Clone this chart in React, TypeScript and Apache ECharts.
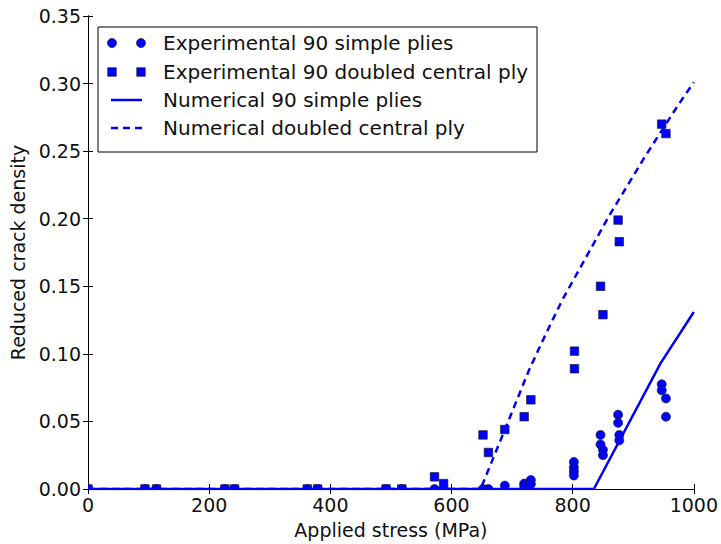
import React, { useEffect, useRef } from "react";
import * as echarts from "echarts";

// Experimental 90 simple plies (circles)
const circleX = [0, 94, 113, 226, 242, 362, 379, 492, 518, 572, 587, 652, 661, 688, 720, 720, 731, 731, 802, 802, 802, 802, 846, 846, 850, 850, 875, 875, 877, 877, 947, 947, 954, 954];
const circleY = [0, 0, 0, 0, 0, 0, 0, 0, 0, 0, 0, 0, 0, 0.0025, 0.004, 0.002, 0.0067, 0.0037, 0.020, 0.016, 0.013, 0.010, 0.040, 0.033, 0.029, 0.025, 0.055, 0.049, 0.040, 0.036, 0.0775, 0.073, 0.067, 0.0535];

// Experimental 90 doubled central ply (squares)
const squareX = [0, 94, 113, 226, 242, 362, 379, 492, 518, 572, 587, 652, 661, 688, 720, 731, 803, 803, 846, 850, 875, 877, 947, 954];
const squareY = [0, 0, 0, 0, 0, 0, 0, 0, 0, 0.009, 0.004, 0.040, 0.027, 0.044, 0.0535, 0.066, 0.102, 0.089, 0.150, 0.129, 0.199, 0.183, 0.270, 0.263];

// Numerical 90 simple plies (solid line)
const simpleX = [0, 835, 945, 1000];
const simpleY = [0, 0, 0.093, 0.131];

// Numerical doubled central ply (dashed line)
const doubledX = [0, 648, 690, 728, 756, 783, 860, 918, 974, 1000];
const doubledY = [0, 0, 0.046, 0.088, 0.115, 0.140, 0.202, 0.245, 0.284, 0.301];

const xTicks = { min: 0, max: 1000, interval: 200 };
const yTicks = { min: 0, max: 0.35, interval: 0.05 };

const legendLabels = [
  "Experimental 90 simple plies",
  "Experimental 90 doubled central ply",
  "Numerical 90 simple plies",
  "Numerical doubled central ply",
];

const BLUE = "#0000ff";
const FONT = "DejaVu Sans";

export default function App() {
  const ref = useRef<HTMLDivElement>(null);
  useEffect(() => {
    if (!ref.current) return;
    const chart = echarts.init(ref.current, null, { renderer: "svg" });

    const circleData = circleX.map((x, i) => [x, circleY[i]]);
    const squareData = squareX.map((x, i) => [x, squareY[i]]);
    const simpleData = simpleX.map((x, i) => [x, simpleY[i]]);
    const doubledData = doubledX.map((x, i) => [x, doubledY[i]]);

    const markerStyle = { fill: BLUE, stroke: "#1a1a3a", lineWidth: 0.7 };
    const R = 4.5;
    const S = 8.5;

    const axisCommon = {
      splitLine: { show: false },
      axisLine: { show: true, lineStyle: { color: "#000", width: 1 } },
      axisTick: { show: true, inside: true, length: 5, lineStyle: { color: "#000", width: 1 } },
    };
    const labelStyle = { fontSize: 19, fontFamily: FONT, color: "#111" };

    const rowY = [43, 72, 100, 128];
    const mk1 = 112;
    const mk2 = 141;
    const textX = 163;

    const legendChildren: any[] = [
      {
        type: "rect",
        shape: { x: 98, y: 27, width: 439, height: 125 },
        style: { fill: "#fff", stroke: "#000", lineWidth: 1 },
      },
      { type: "circle", shape: { cx: mk1, cy: rowY[0], r: R }, style: markerStyle },
      { type: "circle", shape: { cx: mk2, cy: rowY[0], r: R }, style: markerStyle },
      { type: "rect", shape: { x: mk1 - S / 2, y: rowY[1] - S / 2, width: S, height: S }, style: markerStyle },
      { type: "rect", shape: { x: mk2 - S / 2, y: rowY[1] - S / 2, width: S, height: S }, style: markerStyle },
      { type: "line", shape: { x1: 111, y1: rowY[2], x2: 142, y2: rowY[2] }, style: { stroke: BLUE, lineWidth: 2.5 } },
      { type: "line", shape: { x1: 111, y1: rowY[3], x2: 142, y2: rowY[3] }, style: { stroke: BLUE, lineWidth: 2.5, lineDash: [7, 5] } },
    ];
    legendLabels.forEach((t, i) => {
      legendChildren.push({
        type: "text",
        x: textX,
        y: rowY[i],
        style: { text: t, font: `20px "${FONT}"`, fill: "#111", verticalAlign: "middle", align: "left" },
      });
    });

    chart.setOption({
      animation: false,
      backgroundColor: "#fff",
      grid: { left: 88, right: 26, top: 16, bottom: 55, show: false },
      xAxis: [
        {
          type: "value",
          ...xTicks,
          ...axisCommon,
          position: "bottom",
          name: "Applied stress (MPa)",
          nameLocation: "middle",
          nameGap: 31,
          nameTextStyle: labelStyle,
          axisLabel: { ...labelStyle, margin: 6, formatter: (v: number) => String(v) },
        },
        {
          type: "value",
          ...xTicks,
          ...axisCommon,
          position: "top",
          axisLabel: { show: false },
        },
      ],
      yAxis: [
        {
          type: "value",
          ...yTicks,
          ...axisCommon,
          position: "left",
          name: "Reduced crack density",
          nameLocation: "middle",
          nameGap: 54,
          nameTextStyle: labelStyle,
          axisLabel: { ...labelStyle, margin: 7, formatter: (v: number) => v.toFixed(2) },
        },
        {
          type: "value",
          ...yTicks,
          ...axisCommon,
          position: "right",
          axisLabel: { show: false },
        },
      ],
      series: [
        {
          name: legendLabels[0],
          type: "custom",
          clip: true,
          data: circleData,
          encode: { x: 0, y: 1 },
          renderItem: (_p: any, api: any) => {
            const pt = api.coord([api.value(0), api.value(1)]);
            return { type: "circle", shape: { cx: pt[0], cy: pt[1], r: R }, style: markerStyle };
          },
          z: 2,
        },
        {
          name: legendLabels[1],
          type: "custom",
          clip: true,
          data: squareData,
          encode: { x: 0, y: 1 },
          renderItem: (_p: any, api: any) => {
            const pt = api.coord([api.value(0), api.value(1)]);
            return { type: "rect", shape: { x: pt[0] - S / 2, y: pt[1] - S / 2, width: S, height: S }, style: markerStyle };
          },
          z: 2,
        },
        {
          name: legendLabels[2],
          type: "line",
          data: simpleData,
          showSymbol: false,
          symbol: "none",
          lineStyle: { color: BLUE, width: 2.5 },
          clip: true,
          z: 3,
        },
        {
          name: legendLabels[3],
          type: "line",
          data: doubledData,
          showSymbol: false,
          symbol: "none",
          lineStyle: { color: BLUE, width: 2.5, type: [7, 5] },
          clip: true,
          z: 3,
        },
      ],
      graphic: [{ type: "group", z: 100, children: legendChildren }],
    });

    return () => chart.dispose();
  }, []);

  return <div ref={ref} style={{ position: "fixed", left: 0, top: 0, width: 721, height: 544 }} />;
}
